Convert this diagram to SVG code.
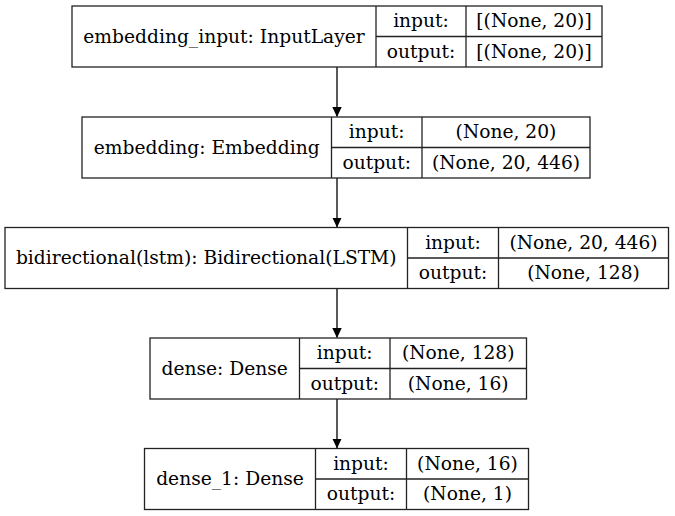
<svg xmlns="http://www.w3.org/2000/svg" width="675" height="516" viewBox="0 0 675 516">
<style>
rect, line.d { fill: none; stroke: #222; stroke-width: 1.3; }
rect.bg { fill: #fff; stroke: none; }
text { font-family: "DejaVu Serif", serif; font-size: 18.67px; fill: #000; text-anchor: middle; }
.edge { stroke: #000; stroke-width: 1.3; fill: none; }
</style>
<defs>
<marker id="ah" markerUnits="userSpaceOnUse" markerWidth="10" markerHeight="14" refX="9.5" refY="4.7" orient="auto" viewBox="0 0 10 9.4">
<polygon points="0,0 10,4.7 0,9.4" fill="#000"/>
</marker>
</defs>
<rect class="bg" x="0" y="0" width="675" height="516"/>
<g id="connectors">
<path class="edge" d="M337,67 L337,116.5" marker-end="url(#ah)"/>
<path class="edge" d="M337,178 L337,227" marker-end="url(#ah)"/>
<path class="edge" d="M337,288.5 L337,337.5" marker-end="url(#ah)"/>
<path class="edge" d="M337,399 L337,448" marker-end="url(#ah)"/>
</g>
<g id="embedding_input">
<rect x="72" y="6" width="530" height="61"/>
<line class="d" x1="376" y1="6" x2="376" y2="67"/>
<line class="d" x1="466" y1="6" x2="466" y2="67"/>
<line class="d" x1="376" y1="36.5" x2="602" y2="36.5"/>
<text x="224" y="42.8">embedding_input: InputLayer</text>
<text x="421" y="27">input:</text>
<text x="421" y="57.5">output:</text>
<text x="534" y="27">[(None, 20)]</text>
<text x="534" y="57.5">[(None, 20)]</text>
</g>
<g id="embedding">
<rect x="82" y="117" width="508" height="61"/>
<line class="d" x1="331.5" y1="117" x2="331.5" y2="178"/>
<line class="d" x1="422" y1="117" x2="422" y2="178"/>
<line class="d" x1="331.5" y1="147.5" x2="590" y2="147.5"/>
<text x="206.7" y="153.8">embedding: Embedding</text>
<text x="376.7" y="138">input:</text>
<text x="376.7" y="168.5">output:</text>
<text x="506" y="138">(None, 20)</text>
<text x="506" y="168.5">(None, 20, 446)</text>
</g>
<g id="bidirectional">
<rect x="5" y="227.5" width="663.5" height="61"/>
<line class="d" x1="407.5" y1="227.5" x2="407.5" y2="288.5"/>
<line class="d" x1="498.5" y1="227.5" x2="498.5" y2="288.5"/>
<line class="d" x1="407.5" y1="258" x2="668.5" y2="258"/>
<text x="206.2" y="264.3">bidirectional(lstm): Bidirectional(LSTM)</text>
<text x="453" y="248.5">input:</text>
<text x="453" y="279">output:</text>
<text x="583.5" y="248.5">(None, 20, 446)</text>
<text x="583.5" y="279">(None, 128)</text>
</g>
<g id="dense">
<rect x="150" y="338" width="376.5" height="61"/>
<line class="d" x1="299.5" y1="338" x2="299.5" y2="399"/>
<line class="d" x1="390" y1="338" x2="390" y2="399"/>
<line class="d" x1="299.5" y1="368.5" x2="526.5" y2="368.5"/>
<text x="224.7" y="374.8">dense: Dense</text>
<text x="344.7" y="359">input:</text>
<text x="344.7" y="389.5">output:</text>
<text x="458.2" y="359">(None, 128)</text>
<text x="458.2" y="389.5">(None, 16)</text>
</g>
<g id="dense_1">
<rect x="144.5" y="448.5" width="384" height="61"/>
<line class="d" x1="315.5" y1="448.5" x2="315.5" y2="509.5"/>
<line class="d" x1="406.5" y1="448.5" x2="406.5" y2="509.5"/>
<line class="d" x1="315.5" y1="479" x2="528.5" y2="479"/>
<text x="230" y="485.3">dense_1: Dense</text>
<text x="361" y="469.5">input:</text>
<text x="361" y="500">output:</text>
<text x="467.5" y="469.5">(None, 16)</text>
<text x="467.5" y="500">(None, 1)</text>
</g>
</svg>
